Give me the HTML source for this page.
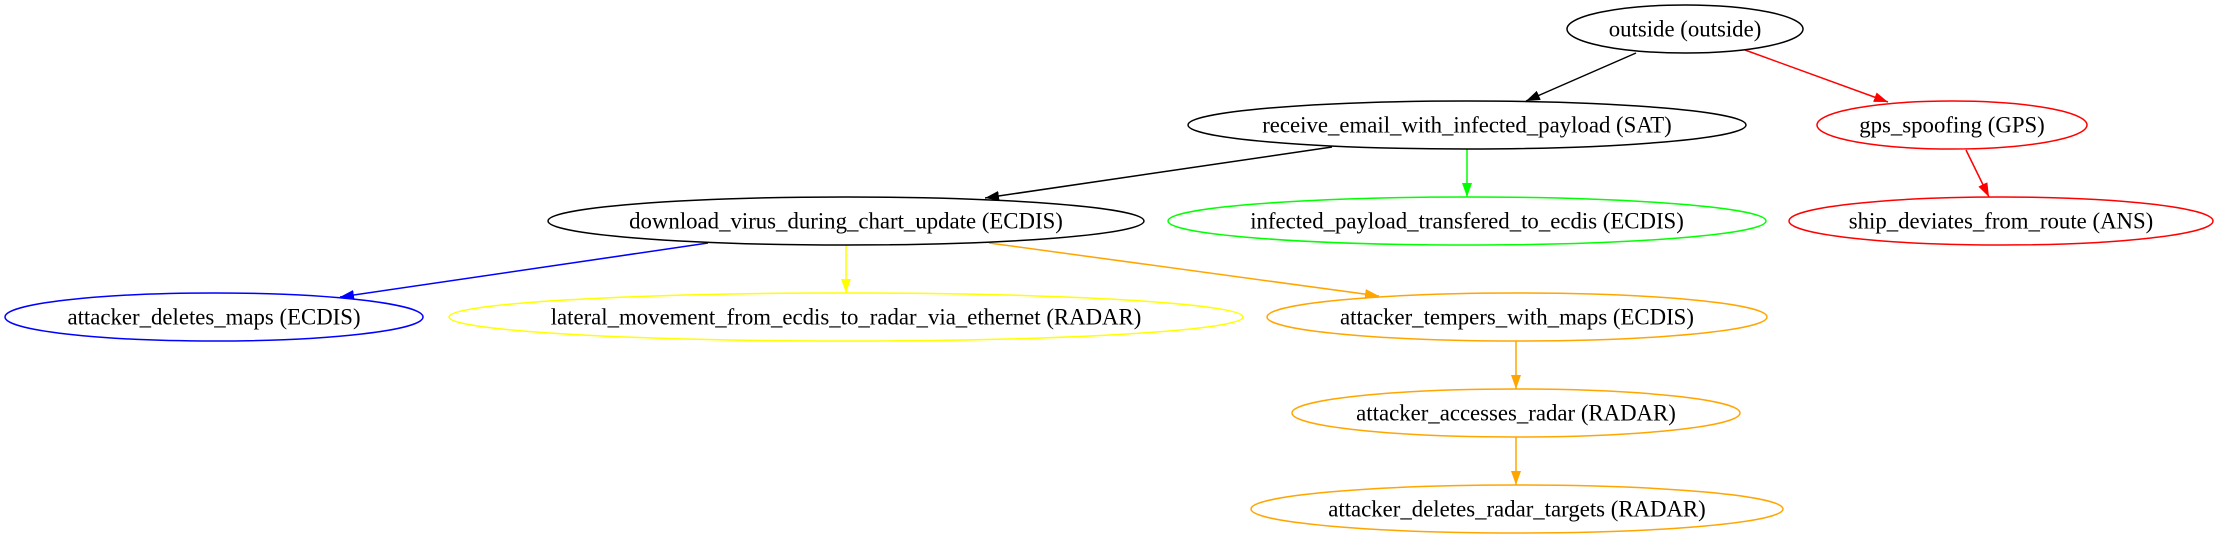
<!DOCTYPE html>
<html><head><meta charset="utf-8"><style>
html,body{margin:0;padding:0;background:#fff;}
svg{display:block;}
text{font-family:"Liberation Serif",serif;font-size:22.8px;text-anchor:middle;dominant-baseline:central;fill:#000;}
</style></head><body>
<svg width="2219" height="539" viewBox="0 0 2219 539" xmlns="http://www.w3.org/2000/svg">
<defs>
<marker id="mk" markerWidth="14" markerHeight="10" refX="14" refY="5" orient="auto" markerUnits="userSpaceOnUse"><path d="M0,0L14,5L0,10z" fill="#000"/></marker>
<marker id="mr" markerWidth="14" markerHeight="10" refX="14" refY="5" orient="auto" markerUnits="userSpaceOnUse"><path d="M0,0L14,5L0,10z" fill="#f00"/></marker>
<marker id="mg" markerWidth="14" markerHeight="10" refX="14" refY="5" orient="auto" markerUnits="userSpaceOnUse"><path d="M0,0L14,5L0,10z" fill="#0f0"/></marker>
<marker id="mb" markerWidth="14" markerHeight="10" refX="14" refY="5" orient="auto" markerUnits="userSpaceOnUse"><path d="M0,0L14,5L0,10z" fill="#00f"/></marker>
<marker id="my" markerWidth="14" markerHeight="10" refX="14" refY="5" orient="auto" markerUnits="userSpaceOnUse"><path d="M0,0L14,5L0,10z" fill="#ff0"/></marker>
<marker id="mo" markerWidth="14" markerHeight="10" refX="14" refY="5" orient="auto" markerUnits="userSpaceOnUse"><path d="M0,0L14,5L0,10z" fill="#ffa500"/></marker>
</defs>
<g fill="none" stroke-width="1.5">
<line x1="1636" y1="53" x2="1526" y2="101" stroke="#000" marker-end="url(#mk)"/>
<line x1="1745" y1="50" x2="1888" y2="102" stroke="#f00" marker-end="url(#mr)"/>
<line x1="1332" y1="147" x2="985" y2="198" stroke="#000" marker-end="url(#mk)"/>
<line x1="1467" y1="149" x2="1467" y2="197" stroke="#0f0" marker-end="url(#mg)"/>
<line x1="1966" y1="150" x2="1989" y2="197" stroke="#f00" marker-end="url(#mr)"/>
<line x1="708" y1="243" x2="340" y2="297" stroke="#00f" marker-end="url(#mb)"/>
<line x1="846" y1="245" x2="846" y2="293" stroke="#ff0" marker-end="url(#my)"/>
<line x1="989" y1="243" x2="1379" y2="296" stroke="#ffa500" marker-end="url(#mo)"/>
<line x1="1516" y1="341" x2="1516" y2="389" stroke="#ffa500" marker-end="url(#mo)"/>
<line x1="1516" y1="437" x2="1516" y2="485" stroke="#ffa500" marker-end="url(#mo)"/>

<ellipse cx="1685" cy="29" rx="118" ry="24" stroke="#000"/>
<ellipse cx="1467" cy="125" rx="279" ry="24" stroke="#000"/>
<ellipse cx="1952" cy="125" rx="135" ry="24" stroke="#f00"/>
<ellipse cx="1467" cy="221" rx="299" ry="24" stroke="#0f0"/>
<ellipse cx="2001" cy="221" rx="212" ry="24" stroke="#f00"/>
<ellipse cx="846" cy="221" rx="298" ry="24" stroke="#000"/>
<ellipse cx="214" cy="317" rx="209" ry="24" stroke="#00f"/>
<ellipse cx="846" cy="317" rx="397" ry="24" stroke="#ff0"/>
<ellipse cx="1517" cy="317" rx="250" ry="24" stroke="#ffa500"/>
<ellipse cx="1516" cy="413" rx="224" ry="24" stroke="#ffa500"/>
<ellipse cx="1517" cy="509" rx="266" ry="24" stroke="#ffa500"/>
</g>
<text x="1685" y="29">outside (outside)</text>
<text x="1467" y="125">receive_email_with_infected_payload (SAT)</text>
<text x="1952" y="125">gps_spoofing (GPS)</text>
<text x="1467" y="221">infected_payload_transfered_to_ecdis (ECDIS)</text>
<text x="2001" y="221">ship_deviates_from_route (ANS)</text>
<text x="846" y="221">download_virus_during_chart_update (ECDIS)</text>
<text x="214" y="317">attacker_deletes_maps (ECDIS)</text>
<text x="846" y="317">lateral_movement_from_ecdis_to_radar_via_ethernet (RADAR)</text>
<text x="1517" y="317">attacker_tempers_with_maps (ECDIS)</text>
<text x="1516" y="413">attacker_accesses_radar (RADAR)</text>
<text x="1517" y="509">attacker_deletes_radar_targets (RADAR)</text>
</svg>
</body></html>
